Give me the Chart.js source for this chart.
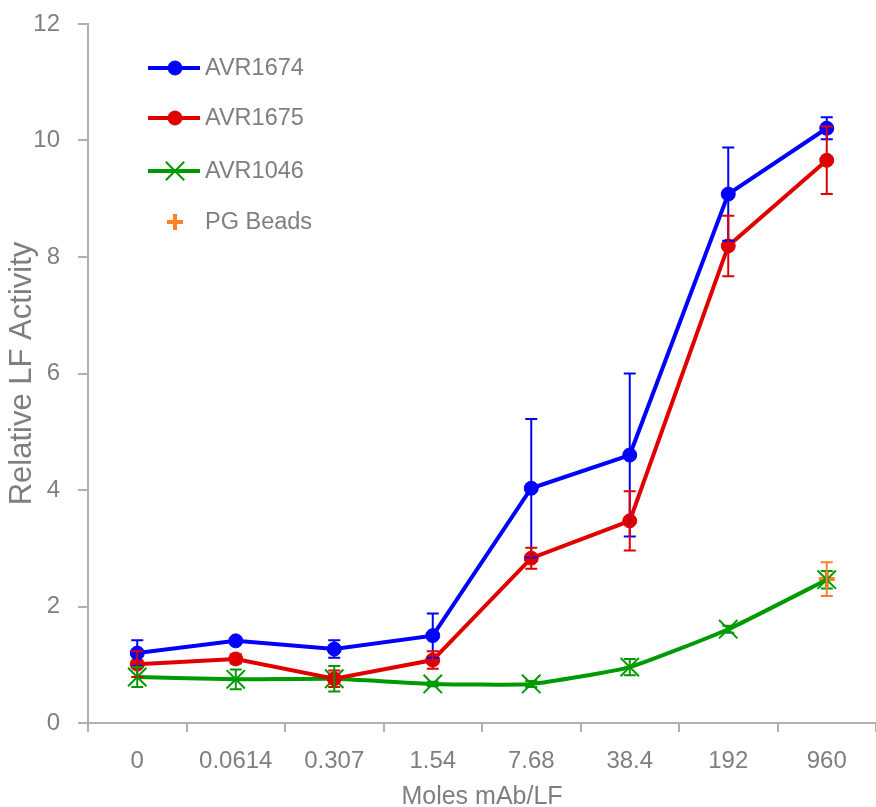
<!DOCTYPE html>
<html>
<head>
<meta charset="utf-8">
<script src="https://cdn.jsdelivr.net/npm/chart.js@4.4.1/dist/chart.umd.min.js"></script>
<style>
  body { margin: 0; background: #fff; overflow: hidden; }
  canvas { display: block; }
</style>
</head>
<body>
<canvas id="chart" width="876" height="807"></canvas>
<script>
// data
const categories = ['0', '0.0614', '0.307', '1.54', '7.68', '38.4', '192', '960'];
const yTicks = [0, 2, 4, 6, 8, 10, 12];

const avr1674 = [1.20, 1.41, 1.27, 1.50, 4.03, 4.60, 9.08, 10.21];
const avr1674Err = [0.22, 0.05, 0.15, 0.38, 1.19, 1.40, 0.80, 0.19];

const avr1675 = [1.01, 1.10, 0.76, 1.08, 2.83, 3.47, 8.19, 9.66];
const avr1675Err = [0.22, 0.08, 0.14, 0.15, 0.18, 0.51, 0.52, 0.58];

const avr1046 = [0.79, 0.75, 0.76, 0.67, 0.67, 0.96, 1.61, 2.46];
const avr1046Err = [0.17, 0.17, 0.22, 0.04, 0.05, 0.14, 0.06, 0.15];

const pgBeads = [null, null, null, null, null, null, null, 2.47];
const pgBeadsErr = [null, null, null, null, null, null, null, 0.29];

const FONT = '"Liberation Sans", Arial, sans-serif';
const GREY_TEXT = '#7f7f7f';
const GREY_AXIS = '#b0b0b0';

// error bars drawn with the chart's own scales
const errorBars = {
    id: 'errorBars',
    afterDatasetsDraw(chart) {
        const ctx = chart.ctx;
        const yScale = chart.scales.y;
        chart.data.datasets.forEach((ds, di) => {
            if (!ds.errors) return;
            const meta = chart.getDatasetMeta(di);
            ctx.save();
            ctx.strokeStyle = ds.borderColor;
            ctx.lineWidth = 2;
            ds.data.forEach((v, i) => {
                const e = ds.errors[i];
                if (v == null || !e) return;
                const x = meta.data[i].x;
                const yTop = yScale.getPixelForValue(v + e);
                const yBot = yScale.getPixelForValue(v - e);
                ctx.beginPath();
                ctx.moveTo(x, yTop); ctx.lineTo(x, yBot);
                ctx.moveTo(x - 6, yTop); ctx.lineTo(x + 6, yTop);
                ctx.moveTo(x - 6, yBot); ctx.lineTo(x + 6, yBot);
                ctx.stroke();
            });
            ctx.restore();
        });
    }
};

// legend inside the plot, Excel style
const insideLegend = {
    id: 'insideLegend',
    afterDraw(chart) {
        const ctx = chart.ctx;
        const rows = [68, 118, 171, 222];
        ctx.save();
        chart.data.datasets.forEach((ds, i) => {
            const y = rows[i];
            if (ds.showLine !== false) {
                ctx.strokeStyle = ds.borderColor;
                ctx.lineWidth = 4;
                ctx.beginPath();
                ctx.moveTo(148, y); ctx.lineTo(200, y);
                ctx.stroke();
            }
            ctx.fillStyle = ds.borderColor;
            ctx.strokeStyle = ds.borderColor;
            ctx.lineWidth = ds.pointBorderWidth;
            Chart.helpers.drawPoint(ctx, {
                pointStyle: ds.pointStyle,
                radius: ds.pointRadius,
                borderWidth: ds.pointBorderWidth
            }, 175, y);
            ctx.fillStyle = GREY_TEXT;
            ctx.font = '23.5px ' + FONT;
            ctx.textBaseline = 'middle';
            ctx.fillText(ds.label, 205, y + 1);
        });
        ctx.restore();
    }
};

function series(label, data, errors, color, style, radius, bw, extra) {
    return Object.assign({
        label: label,
        data: data,
        errors: errors,
        borderColor: color,
        backgroundColor: color,
        pointBackgroundColor: color,
        pointBorderColor: color,
        borderWidth: 4,
        pointStyle: style,
        pointRadius: radius,
        pointHoverRadius: radius,
        pointBorderWidth: bw,
        tension: 0,
        clip: false
    }, extra || {});
}

const ctx = document.getElementById('chart').getContext('2d');
const chart = new Chart(ctx, {
    type: 'line',
    data: {
        labels: categories,
        datasets: [
            series('AVR1674', avr1674, avr1674Err, '#0000ff', 'circle', 7, 1),
            series('AVR1675', avr1675, avr1675Err, '#e00000', 'circle', 7, 1),
            series('AVR1046', avr1046, avr1046Err, '#009a00', 'crossRot', 13, 2, { tension: 0.15 }),
            series('PG Beads', pgBeads, pgBeadsErr, '#ff7f2a', 'cross', 8, 4, { showLine: false })
        ]
    },
    options: {
        responsive: false,
        animation: false,
        layout: { autoPadding: false, padding: { top: 24, right: 0, left: 0, bottom: 0 } },
        plugins: {
            legend: { display: false },
            tooltip: { enabled: false }
        },
        scales: {
            x: {
                offset: true,
                grid: {
                    offset: true,
                    drawOnChartArea: false,
                    tickLength: 9,
                    color: GREY_AXIS,
                    lineWidth: 2
                },
                border: { color: GREY_AXIS, width: 2 },
                ticks: {
                    color: GREY_TEXT,
                    font: { family: FONT, size: 24 },
                    padding: 15,
                    maxRotation: 0,
                    autoSkip: false
                },
                title: {
                    display: true,
                    text: 'Moles mAb/LF',
                    color: GREY_TEXT,
                    font: { family: FONT, size: 25, lineHeight: 0.8 },
                    padding: 0
                },
                afterFit(scale) {
                    scale.height = 84;
                    scale.paddingLeft = 0;
                    scale.paddingRight = 0;
                }
            },
            y: {
                min: 0,
                max: 12,
                afterBuildTicks(scale) { scale.ticks = yTicks.map(v => ({ value: v })); },
                grid: {
                    drawOnChartArea: false,
                    tickLength: 10,
                    color: GREY_AXIS,
                    lineWidth: 2
                },
                border: { color: GREY_AXIS, width: 2 },
                ticks: {
                    color: GREY_TEXT,
                    font: { family: FONT, size: 24 },
                    padding: 18
                },
                title: {
                    display: true,
                    text: 'Relative LF Activity',
                    color: GREY_TEXT,
                    font: { family: FONT, size: 31, lineHeight: 1 },
                    padding: { top: 7, bottom: 0 }
                },
                afterFit(scale) {
                    scale.width = 88;
                    scale.paddingTop = 0;
                    scale.paddingBottom = 0;
                }
            }
        }
    },
    plugins: [errorBars, insideLegend]
});
</script>
</body>
</html>
